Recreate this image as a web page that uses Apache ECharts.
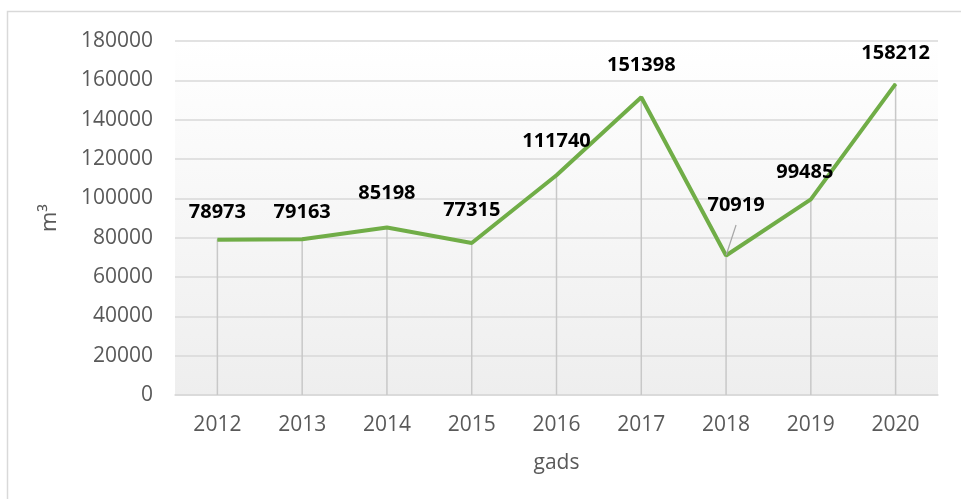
<!DOCTYPE html>
<html>
<head>
<meta charset="utf-8">
<script src="https://cdn.jsdelivr.net/npm/echarts@6/dist/echarts.min.js"></script>
<style>
  html, body { margin: 0; padding: 0; background: #fff; }
  #chart { width: 961px; height: 499px; }
</style>
</head>
<body>
<div id="chart"></div>
<script>
const years = ['2012', '2013', '2014', '2015', '2016', '2017', '2018', '2019', '2020'];
const volumes = [78973, 79163, 85198, 77315, 111740, 151398, 70919, 99485, 158212];
// per-point label nudges, as placed in the original
const labelOffsets = [[0, -12], [0, -12], [0, -19], [0, -17], [0, -18], [0, -16], [10, -35], [-6, -12], [0, -15]];

const chart = echarts.init(document.getElementById('chart'));
const font = 'Open Sans, Noto Sans, sans-serif';

const option = {
  animation: false,
  graphic: [{
    type: 'rect',
    shape: { x: 7.5, y: 11.5, width: 1000, height: 600 },
    style: { fill: 'none', stroke: '#d9d9d9', lineWidth: 1.5 },
    silent: true
  }],
  grid: {
    left: 175, right: 23, top: 41, bottom: 104,
    show: true,
    borderWidth: 0,
    backgroundColor: new echarts.graphic.LinearGradient(0, 0, 0, 1, [
      { offset: 0, color: '#ffffff' },
      { offset: 1, color: '#eeeeee' }
    ])
  },
  xAxis: {
    type: 'category',
    data: years,
    boundaryGap: true,
    name: 'gads',
    nameLocation: 'middle',
    nameGap: 58,
    nameTextStyle: { fontFamily: font, fontSize: 21, color: '#595959' },
    axisLine: { lineStyle: { color: '#d9d9d9', width: 1.5 } },
    axisTick: { show: false },
    axisLabel: { fontFamily: font, fontSize: 21, color: '#595959', margin: 20 }
  },
  yAxis: {
    type: 'value',
    min: 0, max: 180000, interval: 20000,
    name: 'm³',
    nameLocation: 'middle',
    nameGap: 114,
    nameTextStyle: { fontFamily: font, fontSize: 22, color: '#595959' },
    axisLine: { show: false },
    axisTick: { show: false },
    axisLabel: { fontFamily: font, fontSize: 21, color: '#595959', margin: 22, formatter: v => String(v) },
    splitLine: { lineStyle: { color: '#d9d9d9', width: 1.5 } }
  },
  series: [
    {
      // drop lines from each point down to the axis
      type: 'bar',
      data: volumes,
      barWidth: 1.5,
      silent: true,
      itemStyle: { color: '#c8c8c8' },
      z: 1
    },
    {
      type: 'line',
      data: volumes.map((v, i) => ({
        value: v,
        label: { offset: labelOffsets[i] },
        labelLine: i === 6 ? { show: true, lineStyle: { color: '#a6a6a6', width: 1.2 } } : undefined
      })),
      showSymbol: true,
      symbol: 'circle',
      symbolSize: 1,
      itemStyle: { color: '#70ad47' },
      lineStyle: { color: '#70ad47', width: 4 },
      label: {
        show: true,
        position: 'top',
        distance: 5,
        fontFamily: font,
        fontWeight: 'bold',
        fontSize: 20,
        color: '#000'
      },
      z: 3
    }
  ]
};
chart.setOption(option);
</script>
</body>
</html>
